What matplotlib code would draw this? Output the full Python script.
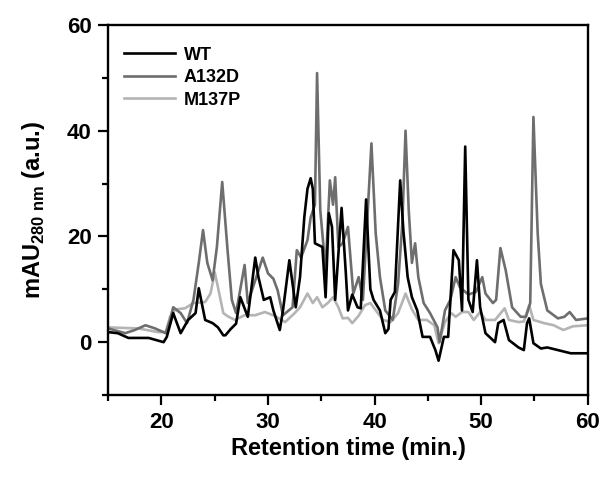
import matplotlib
matplotlib.use('Agg')
import matplotlib.pyplot as plt
from matplotlib.ticker import MultipleLocator

plt.rcParams['font.family'] = ['Liberation Sans', 'DejaVu Sans']
plt.rcParams['font.weight'] = 'bold'
plt.rcParams['mathtext.fontset'] = 'custom'
plt.rcParams['mathtext.rm'] = 'Liberation Sans:bold'
plt.rcParams['mathtext.bf'] = 'Liberation Sans:bold'

# WT
wt_x = [15, 15.9, 16.9, 18.8, 20.2, 20.5, 21.1, 21.8, 22.5, 23.2, 23.5, 24.1, 24.8, 25.3, 25.8, 26.0,
        26.5, 27.0, 27.4, 28.1, 28.8, 29.1, 29.6, 30.2, 30.5, 31.1, 31.4, 32.0, 32.6, 33.0, 33.4, 33.7,
        34.0, 34.2, 34.4, 35.1, 35.4, 35.7, 36.0, 36.3, 36.9, 37.3, 37.5, 37.9, 38.4, 38.7, 39.2, 39.6,
        39.9, 40.5, 41.0, 41.3, 41.5, 41.9, 42.4, 42.7, 43.1, 43.5, 44.0, 44.5, 45.2, 45.7, 46.0, 46.5,
        46.9, 47.4, 47.9, 48.2, 48.5, 48.8, 49.2, 49.6, 49.9, 50.4, 51.3, 51.6, 52.1, 52.6, 53.5, 54.0,
        54.3, 54.5, 54.9, 55.6, 56.2, 57.2, 58.4, 60]
wt_y = [1.9, 1.7, 0.8, 0.8, 0.0, 1.0, 5.5, 1.7, 4.2, 5.5, 10.2, 4.2, 3.6, 2.8, 1.3, 1.3,
        2.5, 3.5, 8.5, 4.8, 16, 12.3, 8, 8.5, 6, 2.3, 6, 15.5, 6.6, 12.3, 23.6, 29,
        31, 29, 18.7, 18, 8.5, 24.4, 21.8, 8, 25.4, 13, 6, 9, 6.6, 6.4, 27, 10,
        8, 6, 1.7, 2.5, 8, 9.5, 30.6, 21, 12.3, 8.5, 6, 1, 1, -1.5, -3.5, 1,
        1, 17.4, 15.5, 6, 37, 8, 5.7, 15.5, 6.6, 1.7, 0, 3.6, 4.2, 0.4, -1, -1.5,
        3.6, 4.5, -0.2, -1.2, -1, -1.5, -2.1, -2.1]

# A132D
a_x = [15, 16.6, 17.5, 18.5, 19.4, 20.4, 20.8, 21.1, 21.8, 22.4, 23.0, 23.5, 23.9, 24.3, 24.8, 25.2,
       25.7, 26.2, 26.6, 27.0, 27.8, 28.1, 28.8, 29.5, 30.0, 30.5, 30.9, 31.4, 32.3, 32.7, 33.1, 33.7,
       34.0, 34.4, 34.6, 34.9, 35.4, 35.8, 36.1, 36.3, 36.6, 37.0, 37.5, 38.0, 38.5, 38.9, 39.7, 40.1,
       40.5, 41.0, 41.7, 42.2, 42.6, 42.9, 43.2, 43.5, 43.8, 44.1, 44.6, 45.2, 45.9, 46.1, 46.6, 47.1,
       47.6, 48.0, 48.8, 49.5, 50.1, 50.4, 51.1, 51.4, 51.8, 52.3, 52.9, 53.7, 54.2, 54.6, 54.9, 55.3,
       55.6, 56.2, 57.2, 57.8, 58.3, 58.9, 60]
a_y = [2.6, 1.7, 2.3, 3.2, 2.6, 1.7, 4.2, 6.6, 5.5, 3.6, 8, 15, 21.2, 15, 11.7, 18,
       30.3, 17.4, 8, 5.5, 14.6, 7.4, 11.7, 16, 13, 12, 9.8, 5.1, 6.6, 17.4, 16, 19.3,
       23.6, 26, 50.9, 25, 13.6, 30.6, 26, 31.2, 18, 18.7, 21.8, 9.2, 12.3, 8, 37.6, 20.6,
       12.3, 6, 4.2, 11, 22.5, 40, 25, 15, 18.7, 12.3, 7.4, 5.5, 2.8, 0, 6, 8,
       12.3, 10.4, 9, 9.5, 12.3, 9.2, 7.4, 8, 17.8, 13.6, 6.6, 4.8, 4.8, 7.4, 42.6, 20.6,
       11, 6, 4.5, 4.8, 5.7, 4.2, 4.5]

# M137P
m_x = [15, 17.8, 19.7, 20.4, 20.8, 21.3, 22.2, 23.0, 24.1, 24.6, 25.0, 25.3, 25.8, 26.3, 26.9, 27.8,
       28.8, 29.7, 30.6, 31.6, 32.5, 33.0, 33.7, 34.2, 34.6, 35.1, 35.6, 36.1, 36.6, 37.0, 37.5, 37.9,
       38.5, 39.1, 39.6, 40.3, 40.8, 41.5, 42.2, 42.9, 43.5, 44.1, 44.9, 45.6, 46.0, 46.6, 47.2, 47.6,
       48.2, 48.8, 49.3, 49.9, 50.4, 51.3, 52.2, 52.6, 53.5, 54.0, 54.5, 54.9, 55.9, 56.8, 57.7, 58.6, 60]
m_y = [2.8, 2.6, 1.9, 1.9, 4.8, 6.2, 6.4, 7.4, 7.6, 9.2, 13.2, 10.4, 5.5, 4.8, 4.2, 5.1,
       5.1, 5.7, 5.0, 3.8, 5.5, 6.6, 9.2, 7.4, 8.5, 6.6, 7.4, 8.5, 6.6, 4.5, 4.6, 3.6,
       5.0, 7.0, 7.4, 5.5, 4.2, 3.8, 5.5, 9.2, 6.2, 4.2, 4.2, 3.2, -0.2, 3.8, 5.5, 4.8,
       5.7, 5.7, 4.2, 5.7, 4.2, 4.2, 6.4, 4.2, 3.8, 3.9, 7.0, 4.2, 3.6, 3.2, 2.3, 3.0, 3.2]

fig, ax = plt.subplots(figsize=(6.01, 4.8), dpi=100)
fig.subplots_adjust(left=0.18, right=0.978, top=0.948, bottom=0.177)

ax.plot(wt_x, wt_y, color='black', lw=1.9, label='WT', zorder=3)
ax.plot(a_x, a_y, color='#6e6e6e', lw=1.9, label='A132D', zorder=2)
ax.plot(m_x, m_y, color='#b4b4b4', lw=1.9, label='M137P', zorder=1)

ax.set_xlim(15, 60)
ax.set_ylim(-10, 60)
ax.xaxis.set_major_locator(MultipleLocator(10))
ax.xaxis.set_minor_locator(MultipleLocator(5))
ax.yaxis.set_major_locator(MultipleLocator(20))
ax.yaxis.set_minor_locator(MultipleLocator(10))
ax.tick_params(which='major', direction='out', length=7, width=1.6, labelsize=16, pad=5)
ax.tick_params(which='minor', direction='out', length=4, width=1.6)
for s in ax.spines.values():
    s.set_linewidth(1.7)

ax.set_xlabel('Retention time (min.)', fontsize=17, fontweight='bold', labelpad=3)
ax.set_ylabel(r'mAU$_{\mathregular{280\ nm}}$ (a.u.)', fontsize=17, fontweight='bold', labelpad=14)

ax.legend(loc='upper left', frameon=False, fontsize=13, handlelength=2.8,
          handletextpad=0.5, borderaxespad=0.5, labelspacing=0.3, bbox_to_anchor=(0.0, 0.985))

fig.savefig('out.png', dpi=100)
